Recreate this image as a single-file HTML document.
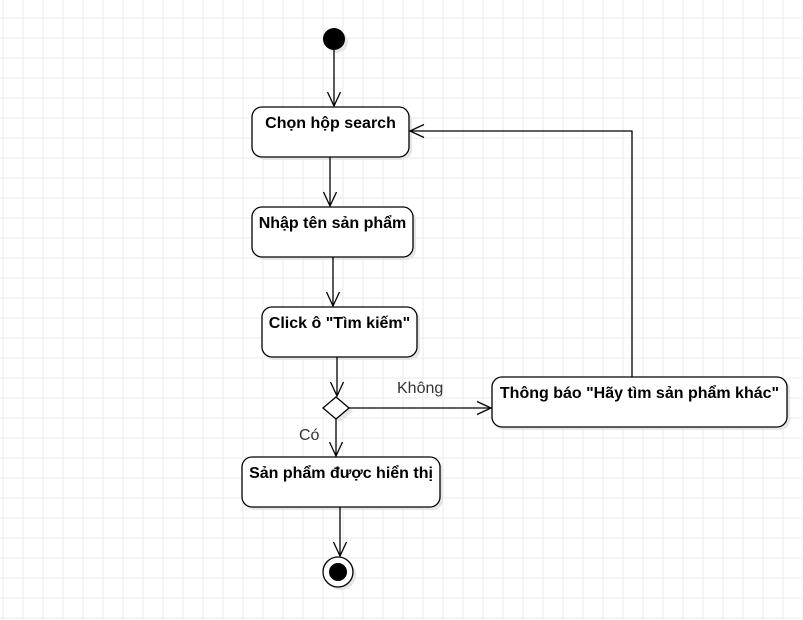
<!DOCTYPE html>
<html><head><meta charset="utf-8"><style>
html,body{margin:0;padding:0;background:#fff;}
svg{display:block;}
text{font-family:"Liberation Sans",Arial,sans-serif;}
</style></head><body>
<svg width="803" height="620" viewBox="0 0 803 620" xmlns="http://www.w3.org/2000/svg">
<defs>
<pattern id="g" x="2.5" y="17.5" width="20" height="20" patternUnits="userSpaceOnUse">
<path d="M0 0.5H20M0.5 0V20" stroke="#ebebeb" stroke-width="1" fill="none"/>
</pattern>
</defs>
<rect width="803" height="620" fill="url(#g)"/>
<g fill="#e6e6e6">
<rect x="255" y="110" width="157" height="50" rx="10"/>
<rect x="255" y="210" width="161" height="50" rx="10"/>
<rect x="265" y="310" width="155" height="50" rx="10"/>
<rect x="245" y="460" width="198" height="50" rx="10"/>
<rect x="495" y="380" width="295" height="50" rx="10"/>
<circle cx="337" cy="42" r="11"/>
<circle cx="341" cy="575" r="15"/>
<path d="M340 400L353 411L340 422L327 411Z"/>
</g>
<g stroke="#000" stroke-width="1.3" fill="none">
<line x1="334" y1="50" x2="334" y2="106"/>
<path d="M327.5 92L334 106L340.5 92"/>
<line x1="330" y1="157" x2="330" y2="206"/>
<path d="M323.5 192L330 206L336.5 192"/>
<line x1="333" y1="257" x2="333" y2="306"/>
<path d="M326.5 292L333 306L339.5 292"/>
<line x1="337" y1="357" x2="337" y2="396"/>
<path d="M330.5 382L337 396L343.5 382"/>
<line x1="336" y1="419" x2="336" y2="456"/>
<path d="M329.5 442L336 456L342.5 442"/>
<line x1="340" y1="507" x2="340" y2="556"/>
<path d="M333.5 542L340 556L346.5 542"/>
<line x1="348" y1="408" x2="491" y2="408"/>
<path d="M477 401.5L491 408L477 414.5"/>
<path d="M632 377V131H410"/>
<path d="M424 124.5L410 131L424 137.5"/>
</g>
<g stroke="#000" stroke-width="1.3" fill="#fff">
<rect x="252" y="107" width="157" height="50" rx="10"/>
<rect x="252" y="207" width="161" height="50" rx="10"/>
<rect x="262" y="307" width="155" height="50" rx="10"/>
<rect x="242" y="457" width="198" height="50" rx="10"/>
<rect x="492" y="377" width="295" height="50" rx="10"/>
<path d="M336 397L349 408L336 419L323 408Z"/>
<circle cx="338" cy="572" r="15"/>
</g>
<circle cx="334" cy="39" r="11" fill="#000"/>
<circle cx="338" cy="572" r="9" fill="#000"/>
<g font-size="16" font-weight="bold" fill="#000" text-anchor="middle">
<text x="330.5" y="128">Chọn hộp search</text>
<text x="332.5" y="228">Nhập tên sản phẩm</text>
<text x="339.5" y="328">Click ô "Tìm kiếm"</text>
<text x="341" y="478">Sản phẩm được hiển thị</text>
<text x="639.5" y="398">Thông báo "Hãy tìm sản phẩm khác"</text>
</g>
<g font-size="16" fill="#333">
<text x="397" y="393">Không</text>
<text x="299" y="440">Có</text>
</g>
</svg>
</body></html>
